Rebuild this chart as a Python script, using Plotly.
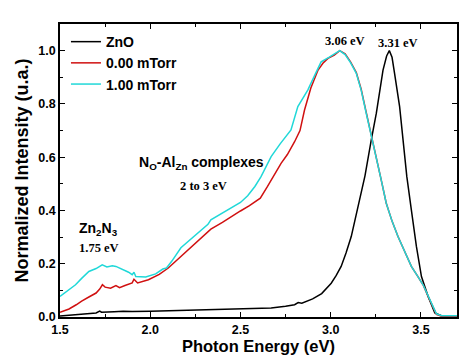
import plotly.graph_objects as go

# ZnO
zno_x = [1.50, 1.55, 1.60, 1.65, 1.70, 1.72, 1.73, 1.75, 1.80, 1.85, 1.90, 2.00, 2.10, 2.20, 2.30, 2.40,
         2.50, 2.60, 2.67, 2.75, 2.80, 2.82, 2.84, 2.90, 2.95, 3.003, 3.03, 3.058, 3.085, 3.114, 3.15,
         3.19, 3.225, 3.253, 3.29, 3.31, 3.325, 3.34, 3.354, 3.382, 3.401, 3.422, 3.447,
         3.475, 3.503, 3.54, 3.577, 3.614, 3.65, 3.70]
zno_y = [0.004, 0.006, 0.008, 0.012, 0.015, 0.022, 0.018, 0.018, 0.020, 0.022, 0.021, 0.022, 0.024, 0.025, 0.027, 0.029,
         0.031, 0.033, 0.034, 0.040, 0.046, 0.054, 0.052, 0.068, 0.088, 0.127, 0.155, 0.19, 0.24, 0.302, 0.41,
         0.53, 0.665, 0.765, 0.927, 0.98, 1.00, 0.975, 0.915, 0.79, 0.665, 0.527, 0.402,
         0.265, 0.152, 0.077, 0.015, 0.005, 0.004, 0.004]

# 0.00 mTorr
red_x = [1.50, 1.52, 1.55, 1.59, 1.62, 1.66, 1.70, 1.72, 1.735, 1.75, 1.78, 1.81, 1.83, 1.86,
         1.90, 1.91, 1.93, 1.99, 2.05, 2.10, 2.15, 2.23, 2.28, 2.32, 2.336, 2.40, 2.45,
         2.50, 2.55, 2.61, 2.65, 2.70, 2.725, 2.76, 2.80, 2.83, 2.855, 2.89, 2.93, 2.96, 2.985,
         3.02, 3.05, 3.08, 3.11, 3.142, 3.169, 3.197, 3.225, 3.253, 3.28, 3.308, 3.34, 3.373,
         3.41, 3.447, 3.48, 3.512, 3.535, 3.558, 3.586, 3.614, 3.65, 3.70]
red_y = [0.018, 0.022, 0.03, 0.046, 0.06, 0.075, 0.09, 0.105, 0.121, 0.112, 0.108, 0.118, 0.11, 0.118,
         0.128, 0.142, 0.128, 0.14, 0.16, 0.184, 0.215, 0.265, 0.295, 0.318, 0.33, 0.355, 0.378,
         0.398, 0.418, 0.446, 0.49, 0.55, 0.577, 0.61, 0.658, 0.70, 0.777, 0.86, 0.927, 0.955, 0.971,
         0.983, 1.00, 0.988, 0.958, 0.918, 0.855, 0.768, 0.686, 0.603, 0.515, 0.427, 0.36, 0.302,
         0.245, 0.19, 0.155, 0.121, 0.085, 0.05, 0.01, 0.003, 0.003, 0.003]

# 1.00 mTorr
cyan_x = [1.50, 1.54, 1.586, 1.62, 1.66, 1.70, 1.734, 1.76, 1.79, 1.81, 1.85, 1.88, 1.90, 1.91, 1.92,
          1.975, 2.03, 2.07, 2.09, 2.12, 2.17, 2.234, 2.28, 2.32, 2.336, 2.40, 2.45, 2.50, 2.54,
          2.58, 2.614, 2.67, 2.72, 2.78, 2.818, 2.873, 2.91, 2.947, 2.99, 3.05, 3.08, 3.11, 3.142,
          3.169, 3.197, 3.225, 3.253, 3.28, 3.308, 3.34, 3.373, 3.41, 3.447, 3.48, 3.512, 3.535,
          3.558, 3.586, 3.614, 3.65, 3.70]
cyan_y = [0.077, 0.098, 0.121, 0.145, 0.171, 0.182, 0.196, 0.188, 0.192, 0.19, 0.178, 0.168, 0.159, 0.168, 0.152,
          0.15, 0.162, 0.18, 0.184, 0.21, 0.26, 0.296, 0.325, 0.348, 0.365, 0.39, 0.41, 0.43, 0.455,
          0.49, 0.527, 0.602, 0.65, 0.702, 0.79, 0.852, 0.905, 0.958, 0.975, 1.00, 0.985, 0.955, 0.915,
          0.852, 0.765, 0.684, 0.602, 0.515, 0.427, 0.36, 0.302, 0.245, 0.19, 0.155, 0.121, 0.087,
          0.052, 0.012, 0.005, 0.005, 0.005]

x_ticks = [1.5, 2.0, 2.5, 3.0, 3.5]
y_ticks = [0.0, 0.2, 0.4, 0.6, 0.8, 1.0]

fig = go.Figure()
fig.add_trace(go.Scatter(x=zno_x, y=zno_y, mode="lines", name="<b>ZnO</b>",
                         line=dict(color="#000000", width=1.5)))
fig.add_trace(go.Scatter(x=red_x, y=red_y, mode="lines", name="<b>0.00 mTorr</b>",
                         line=dict(color="#d01010", width=1.5)))
fig.add_trace(go.Scatter(x=cyan_x, y=cyan_y, mode="lines", name="<b>1.00 mTorr</b>",
                         line=dict(color="#20d8d8", width=1.5)))

serif = dict(family="Liberation Serif", size=12.5, color="#000")
sans = dict(family="Liberation Sans", size=14, color="#000")
ann = [
    dict(x=3.08, y=1.036, text="<b>3.06 eV</b>", font=serif),
    dict(x=3.375, y=1.03, text="<b>3.31 eV</b>", font=serif),
    dict(x=2.286, y=0.579, text="<b>N<sub>O</sub>-Al<sub>Zn</sub> complexes</b>", font=sans),
    dict(x=2.297, y=0.492, text="<b>2 to 3 eV</b>", font=serif),
    dict(x=1.714, y=0.331, text="<b>Zn<sub>2</sub>N<sub>3</sub></b>", font=sans),
    dict(x=1.714, y=0.26, text="<b>1.75 eV</b>", font=serif),
]
for a in ann:
    fig.add_annotation(showarrow=False, xref="x", yref="y", **a)

axis_common = dict(showgrid=False, zeroline=False, showline=True, linecolor="#000", linewidth=1.5,
                   mirror="allticks", ticks="inside", ticklen=5, tickwidth=1.2, tickcolor="#000",
                   automargin=False,
                   tickfont=dict(family="Liberation Sans", size=12.5, color="#000"))
fig.update_xaxes(range=[1.5, 3.7], tickvals=x_ticks, ticktext=[f"<b>{v:.1f}</b>" for v in x_ticks],
                 minor=dict(dtick=0.25, ticks="inside", ticklen=3, tickcolor="#000"),
                 title=dict(text="<b>Photon Energy (eV)</b>", font=dict(family="Liberation Sans", size=16.5, color="#000"),
                            standoff=3),
                 **axis_common)
fig.update_yaxes(range=[0, 1.1], tickvals=y_ticks, ticktext=[f"<b>{v:.1f}</b>" for v in y_ticks],
                 minor=dict(dtick=0.1, ticks="inside", ticklen=3, tickcolor="#000"),
                 title=dict(text="<b>Normalized Intensity (u.a.)</b>", font=dict(family="Liberation Sans", size=18, color="#000"),
                            standoff=5),
                 **axis_common)

# the page body adds an 8 px offset, so the figure is 8 px smaller and margins compensate
fig.update_layout(
    width=466, height=356,
    margin=dict(l=52, r=17, t=16, b=47),
    paper_bgcolor="white", plot_bgcolor="white",
    showlegend=True,
    legend=dict(x=0.015, y=0.993, xanchor="left", yanchor="top", bgcolor="rgba(0,0,0,0)",
                font=dict(family="Liberation Sans", size=14, color="#000"), tracegroupgap=0,
                itemwidth=30),
)
fig.write_html("out.html")
